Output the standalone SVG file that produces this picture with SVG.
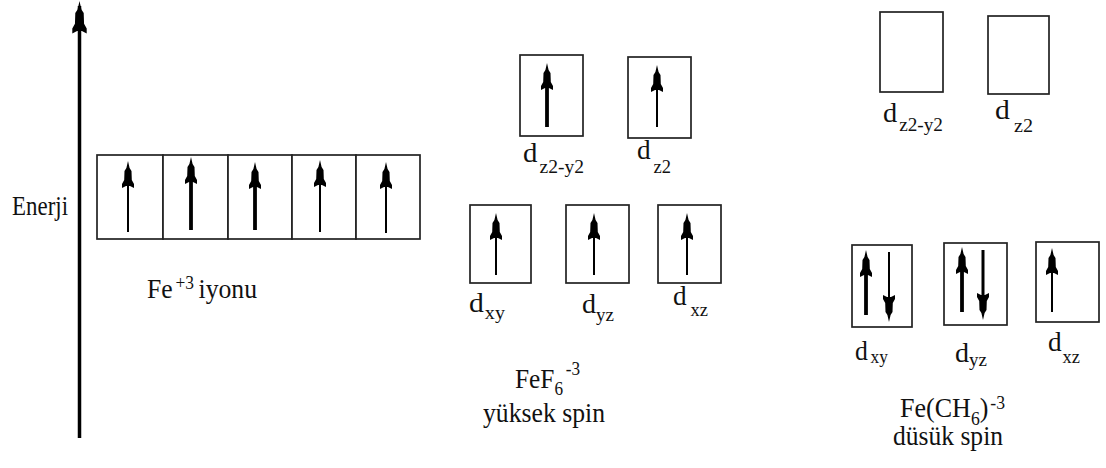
<svg xmlns="http://www.w3.org/2000/svg" width="1106" height="468" viewBox="0 0 1106 468">
  <style>
    .box { fill: #fff; stroke: #222; stroke-width: 1.7; }
    .stem { stroke: #000; stroke-linecap: butt; }
    .thin { stroke-width: 2; }
    .thick { stroke-width: 3.8; }
    text { font-family: 'Liberation Serif', 'DejaVu Serif', serif; fill: #111; font-size: 28px; }
    .s { font-size: 19px; }
  </style>
  <defs>
    <!-- narrow spin arrowhead, tip at the origin, pointing up -->
    <path id="head" d="M0,0 L1.6,7 L3.5,10 L3.8,19 L6,23 L6,27 L2,25 L-2,25 L-6,27 L-6,23 L-3.8,19 L-3.5,10 L-1.6,7 Z" fill="#000"/>
    <!-- same head pointing down -->
    <path id="headDown" d="M0,0 L1.6,-7 L3.5,-10 L3.8,-19 L6,-23 L6,-27 L2,-25 L-2,-25 L-6,-27 L-6,-23 L-3.8,-19 L-3.5,-10 L-1.6,-7 Z" fill="#000"/>
  </defs>

  <!-- energy axis -->
  <g id="energy-axis">
    <line class="stem" x1="79.5" y1="6" x2="79.5" y2="438" stroke-width="3.5"/>
    <use href="#head" transform="translate(79.5 1) scale(1.2)"/>
    <text x="12" y="215" textLength="56" lengthAdjust="spacingAndGlyphs">Enerji</text>
  </g>

  <!-- free ion: five degenerate d orbitals -->
  <g id="fe-ion">
    <rect class="box" x="97" y="155" width="66" height="84"/>
    <rect class="box" x="163" y="155" width="65" height="84"/>
    <rect class="box" x="228" y="155" width="64" height="84"/>
    <rect class="box" x="292" y="155" width="64" height="84"/>
    <rect class="box" x="356" y="155" width="64" height="84"/>
    <line class="stem thin" x1="128" y1="170" x2="128" y2="232"/>
    <use href="#head" x="128" y="161"/>
    <line class="stem thick" x1="191" y1="170" x2="191" y2="230"/>
    <use href="#head" x="191" y="157"/>
    <line class="stem thick" x1="255" y1="170" x2="255" y2="230" stroke-width="3.4"/>
    <use href="#head" x="255" y="162"/>
    <line class="stem thin" x1="320" y1="170" x2="320" y2="232"/>
    <use href="#head" x="320" y="160"/>
    <line class="stem thin" x1="386" y1="170" x2="386" y2="233"/>
    <use href="#head" x="386" y="162"/>
    <text x="147" y="298" textLength="110" lengthAdjust="spacingAndGlyphs">Fe<tspan class="s" dx="3" dy="-9">+3</tspan><tspan dx="5" dy="9">iyonu</tspan></text>
  </g>

  <!-- FeF6 high spin: eg level -->
  <g id="fef6-eg">
    <rect class="box" x="520" y="55" width="63" height="81"/>
    <line class="stem thick" x1="547" y1="75" x2="547" y2="127"/>
    <use href="#head" x="547" y="63"/>
    <text x="523" y="162" textLength="61" lengthAdjust="spacingAndGlyphs">d<tspan class="s" dx="2" dy="11">z2-y2</tspan></text>

    <rect class="box" x="628" y="57" width="63" height="81"/>
    <line class="stem thin" x1="657" y1="75" x2="657" y2="127"/>
    <use href="#head" x="657" y="65"/>
    <text x="637" y="159" textLength="34" lengthAdjust="spacingAndGlyphs">d<tspan class="s" dx="3" dy="14">z2</tspan></text>
  </g>

  <!-- FeF6 high spin: t2g level -->
  <g id="fef6-t2g">
    <rect class="box" x="470" y="205" width="61" height="78"/>
    <line class="stem thin" x1="496" y1="225" x2="496" y2="275"/>
    <use href="#head" x="496" y="213"/>
    <text x="469" y="312" textLength="36" lengthAdjust="spacingAndGlyphs">d<tspan class="s" dx="1" dy="7">xy</tspan></text>

    <rect class="box" x="566" y="205" width="63" height="78"/>
    <line class="stem thin" x1="594" y1="225" x2="594" y2="275"/>
    <use href="#head" x="594" y="213"/>
    <text x="582" y="313" textLength="32" lengthAdjust="spacingAndGlyphs">d<tspan class="s" dx="0" dy="8">yz</tspan></text>

    <rect class="box" x="658" y="205" width="63" height="78"/>
    <line class="stem thin" x1="687" y1="225" x2="687" y2="275"/>
    <use href="#head" x="687" y="213"/>
    <text x="673" y="305" textLength="35" lengthAdjust="spacingAndGlyphs">d<tspan class="s" dx="4" dy="11">xz</tspan></text>
  </g>

  <g id="fef6-caption">
    <text x="515" y="388" textLength="65" lengthAdjust="spacingAndGlyphs">FeF<tspan class="s" dy="7">6</tspan><tspan class="s" dx="3" dy="-20">-3</tspan></text>
    <text x="483" y="422" textLength="122" lengthAdjust="spacingAndGlyphs">yüksek spin</text>
  </g>

  <!-- Fe(CH6) low spin: empty eg level -->
  <g id="fech6-eg">
    <rect class="box" x="880" y="12" width="63" height="80"/>
    <text x="883" y="122" textLength="60" lengthAdjust="spacingAndGlyphs">d<tspan class="s" dx="2" dy="9">z2-y2</tspan></text>

    <rect class="box" x="988" y="16" width="61" height="78"/>
    <text x="995" y="119" textLength="38" lengthAdjust="spacingAndGlyphs">d<tspan class="s" dx="4" dy="13">z2</tspan></text>
  </g>

  <!-- Fe(CH6) low spin: paired t2g level -->
  <g id="fech6-t2g">
    <rect class="box" x="852" y="245" width="60" height="82"/>
    <line class="stem thick" x1="866" y1="262" x2="866" y2="315"/>
    <use href="#head" x="866" y="250"/>
    <line class="stem thin" x1="889" y1="252" x2="889" y2="310"/>
    <use href="#headDown" x="889" y="322"/>
    <text x="855" y="360" textLength="33" lengthAdjust="spacingAndGlyphs">d<tspan class="s" dx="3" dy="3">xy</tspan></text>

    <rect class="box" x="944" y="243" width="63" height="82"/>
    <line class="stem thick" x1="962" y1="260" x2="962" y2="312"/>
    <use href="#head" x="962" y="247"/>
    <line class="stem" x1="983" y1="250" x2="983" y2="308" stroke-width="3"/>
    <use href="#headDown" x="983" y="320"/>
    <text x="955" y="362" textLength="32" lengthAdjust="spacingAndGlyphs">d<tspan class="s" dy="4">yz</tspan></text>

    <rect class="box" x="1036" y="242" width="63" height="80"/>
    <line class="stem thin" x1="1052" y1="260" x2="1052" y2="312"/>
    <use href="#head" x="1052" y="248"/>
    <text x="1048" y="351" textLength="32" lengthAdjust="spacingAndGlyphs">d<tspan class="s" dx="1" dy="12">xz</tspan></text>
  </g>

  <g id="fech6-caption">
    <text x="900" y="417" textLength="105" lengthAdjust="spacingAndGlyphs">Fe(CH<tspan class="s" dy="8">6</tspan><tspan dy="-8">)</tspan><tspan class="s" dx="2" dy="-8">-3</tspan></text>
    <text x="893" y="445" textLength="110" lengthAdjust="spacingAndGlyphs">düsük spin</text>
  </g>
</svg>
